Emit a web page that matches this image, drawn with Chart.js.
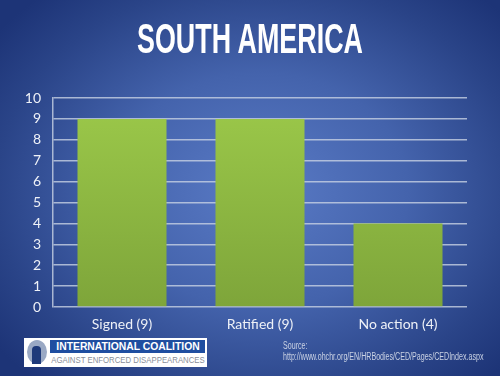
<!DOCTYPE html>
<html>
<head>
<meta charset="utf-8">
<script src="https://cdn.jsdelivr.net/npm/chart.js@4"></script>
<style>
  html, body { margin: 0; padding: 0; }
  body {
    width: 500px; height: 376px; overflow: hidden; position: relative;
    background: radial-gradient(ellipse 330px 260px at 260px 190px, #5a7bc6 0%, #4463ac 45%, #2a4488 80%, #1d3477 100%);
    font-family: Lato, sans-serif;
  }
  #wrap { position: absolute; left: 0; top: 0; width: 500px; height: 376px; }
  .title {
    position: absolute; left: 0; width: 500px; top: 15px; text-align: center; white-space: nowrap;
    color: #fff; font: bold 42px "Liberation Sans", sans-serif;
    transform: scaleX(0.64);
  }
  .logo {
    position: absolute; left: 24px; top: 338px; width: 183px; height: 29px; background: #fff;
  }
  .logo .icon { position: absolute; left: 3px; top: 2px; width: 20px; height: 24px; border-radius: 50%; background: #9aa9c4; }
  .logo .icon2 { position: absolute; left: 8px; top: 8px; width: 9px; height: 18px; border-radius: 4px 4px 0 0; background: #1e3a7a; }
  .logo .top {
    position: absolute; left: 26px; top: 2px; width: 155px; height: 13px; background: #1f4ea0; overflow: hidden;
  }
  .logo .bot {
    position: absolute; left: 26px; top: 16px; width: 155px; height: 12px; overflow: hidden;
  }
  .logo span {
    position: absolute; left: 50%; top: 0; white-space: nowrap; transform-origin: 0 0;
  }
  .logo .top span {
    color: #fff; font: bold 11.5px "Liberation Sans", sans-serif; line-height: 13px;
    transform: translateX(-50%) scaleX(0.9); transform-origin: 50% 0;
  }
  .logo .bot span {
    color: #8a8f99; font: 9.5px "Liberation Sans", sans-serif; line-height: 12px;
    transform: translateX(-50%) scaleX(0.82); transform-origin: 50% 0;
  }
  .src {
    position: absolute; left: 283px; top: 340px; color: #c9d1e3; white-space: nowrap;
    font: 10px "Liberation Sans", sans-serif; line-height: 11px; transform-origin: 0 0; transform: scaleX(0.71);
  }
</style>
</head>
<body>
<div id="wrap"><canvas id="chart" width="500" height="376"></canvas></div>
<div class="title">SOUTH AMERICA</div>
<div class="logo">
  <div class="icon"></div><div class="icon2"></div>
  <div class="top"><span>INTERNATIONAL COALITION</span></div>
  <div class="bot"><span>AGAINST ENFORCED DISAPPEARANCES</span></div>
</div>
<div class="src">Source:<br>http://www.ohchr.org/EN/HRBodies/CED/Pages/CEDIndex.aspx</div>
<script>
const categories = ["Signed (9)", "Ratified (9)", "No action (4)"];
const countries = [9, 9, 4];
const yMin = 0;
const yMax = 10;

const gridColor = "rgba(200, 210, 228, 0.8)";

const barFill = (context) => {
  const chart = context.chart;
  const area = chart.chartArea;
  if (!area) return "#8fba43";
  const g = chart.ctx.createLinearGradient(0, area.top, 0, area.bottom);
  g.addColorStop(0, "#9cc94a");
  g.addColorStop(1, "#7ea53a");
  return g;
};

new Chart(document.getElementById("chart"), {
  type: "bar",
  data: {
    labels: categories,
    datasets: [
      {
        data: countries,
        backgroundColor: barFill,
        borderWidth: 0,
        categoryPercentage: 1,
        barPercentage: 0.645,
      },
    ],
  },
  options: {
    responsive: false,
    animation: false,
    events: [],
    layout: { padding: { left: 0, right: 33, top: 98, bottom: 0 } },
    plugins: { legend: { display: false }, tooltip: { enabled: false } },
    scales: {
      x: {
        grid: { display: false, drawTicks: false },
        border: { display: false },
        ticks: { color: "#eef1f7", font: { family: "Lato", size: 14 }, padding: 9 },
        afterFit: (s) => { s.height = 69; },
      },
      y: {
        min: yMin,
        max: yMax,
        ticks: { stepSize: 1, color: "#eef1f7", font: { family: "Lato", size: 14 }, padding: 12 },
        grid: { color: gridColor, lineWidth: 1.5, drawTicks: false },
        border: { display: true, color: gridColor, width: 1.5 },
        afterFit: (s) => { s.width = 53; },
      },
    },
  },
});
</script>
</body>
</html>
